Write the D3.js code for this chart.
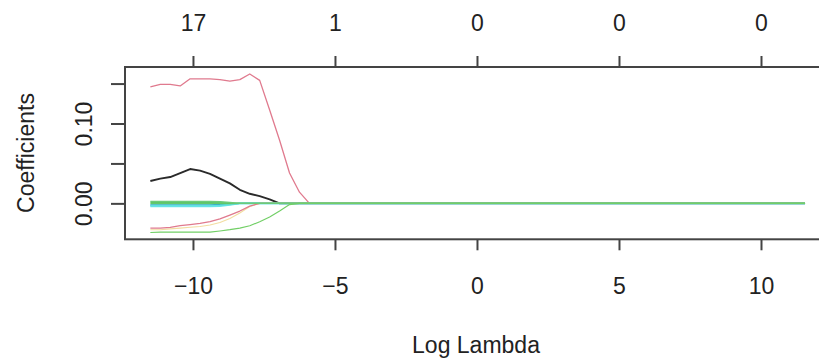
<!DOCTYPE html>
<html><head><meta charset="utf-8">
<script src="https://cdn.jsdelivr.net/npm/d3@7"></script>
<style>
body{margin:0;background:#fff}
text{font-family:"Liberation Sans",Arial,Helvetica,sans-serif;fill:#222}
</style>
</head><body><svg id="c" width="819" height="360"></svg>
<script>
// log(lambda) grid
const logLambda = [-11.5,-11.15,-10.8,-10.45,-10.1,-9.75,-9.4,-9.05,-8.7,-8.35,-8.0,-7.65,-7.3,-6.95,-6.6,-6.25,-5.9,-5.55,11.55];
// coefficient paths
const coefRedTop   = [0.146,0.149,0.149,0.147,0.156,0.156,0.156,0.155,0.153,0.155,0.162,0.154,0.117,0.079,0.038,0.014,0,0,0];
const coefBlack    = [0.028,0.031,0.033,0.038,0.043,0.041,0.037,0.031,0.025,0.017,0.012,0.009,0.005,0,0,0,0,0,0];
const coefRedLow   = [-0.031,-0.031,-0.030,-0.028,-0.0265,-0.025,-0.023,-0.0195,-0.0146,-0.0096,-0.0034,0,0,0,0,0,0,0,0];
const coefYellow   = [-0.033,-0.033,-0.032,-0.031,-0.030,-0.029,-0.027,-0.024,-0.019,-0.012,-0.004,0,0,0,0,0,0,0,0];
const coefGreenLow = [-0.0365,-0.036,-0.036,-0.036,-0.036,-0.036,-0.036,-0.0346,-0.033,-0.031,-0.028,-0.023,-0.017,-0.0096,-0.0015,0,0,0,0];
const coefBlue     = [-0.002,-0.002,-0.002,-0.002,-0.002,-0.002,-0.002,-0.0015,-0.001,0,0,0,0,0,0,0,0,0,0];
const coefCyanA    = [-0.004,-0.004,-0.004,-0.004,-0.004,-0.004,-0.004,-0.0035,-0.002,0,0,0,0,0,0,0,0,0,0];
const coefCyanB    = [-0.0028,-0.0028,-0.0028,-0.0028,-0.0028,-0.0028,-0.0028,-0.0025,-0.0015,0,0,0,0,0,0,0,0,0,0];
const coefGreenA   = [0.0025,0.0025,0.0025,0.0025,0.0025,0.0025,0.0025,0.002,0.001,0,0,0,0,0,0,0,0,0,0];
const coefGreenB   = [0.0012,0.0012,0.0012,0.0012,0.0012,0.0012,0.0012,0.001,0.0005,0,0,0,0,0,0,0,0,0,0];
const coefGreenC   = [-0.0003,-0.0003,-0.0003,-0.0003,-0.0003,-0.0003,-0.0003,-0.0003,-0.0002,0,0,0,0,0,0,0,0,0,0];
const xTicks = [-10,-5,0,5,10];
const dfLabels = ["17","1","0","0","0"];
const yTicks = [0,0.05,0.10,0.15];
const yTickLabels = ["0.00","","0.10",""];

const series = [
  {v:coefBlack, c:"#2a2a2a", w:1.9},
  {v:coefRedTop, c:"#E07A8E", w:1.3},
  {v:coefBlue, c:"#2297E6", w:1.4},
  {v:coefCyanA, c:"#6FE6E8", w:1.6},
  {v:coefCyanB, c:"#5EE0E2", w:1.6},
  {v:coefYellow, c:"#F2DDA0", w:1.1},
  {v:coefRedLow, c:"#E07A8E", w:1.3},
  {v:coefGreenC, c:"#62C96A", w:1.4},
  {v:coefGreenB, c:"#5FC46A", w:1.4},
  {v:coefGreenA, c:"#6CCB78", w:1.4},
  {v:coefGreenLow, c:"#72CF66", w:1.2}
];

const svg = d3.select("#c");
const L=125, T=67, B=239.3, R=832;
const x = d3.scaleLinear().domain([-12.4,12.5]).range([124.8,832]);
const y = d3.scaleLinear().domain([-0.045,0.17075]).range([B,T]);

const line = d3.line().x((d,i)=>x(logLambda[i])).y(d=>y(d));
svg.append("g").selectAll("path").data(series).join("path")
  .attr("d",s=>line(s.v)).attr("fill","none")
  .attr("stroke",s=>s.c).attr("stroke-width",s=>s.w).attr("stroke-linejoin","round");

// box
svg.append("rect").attr("x",L).attr("y",T).attr("width",R-L).attr("height",B-T)
  .attr("fill","none").attr("stroke","#444").attr("stroke-width",2);

const fs = "23px";
const gb = svg.append("g").attr("transform",`translate(0,${B})`)
  .call(d3.axisBottom(x).tickValues(xTicks).tickSize(11).tickPadding(27).tickFormat(d=>d<0?"\u2212"+Math.abs(d):d));
gb.select(".domain").remove();
gb.selectAll("line").attr("stroke","#444").attr("stroke-width",2);
gb.selectAll("text").attr("font-size",fs).attr("fill","#222");

const gt = svg.append("g").attr("transform",`translate(0,${T})`)
  .call(d3.axisTop(x).tickValues(xTicks).tickSize(11).tickPadding(25).tickFormat((d,i)=>dfLabels[i]));
gt.select(".domain").remove();
gt.selectAll("line").attr("stroke","#444").attr("stroke-width",2);
gt.selectAll("text").attr("font-size",fs).attr("fill","#222");

const gl = svg.append("g").attr("transform",`translate(${L},0)`)
  .call(d3.axisLeft(y).tickValues(yTicks).tickSize(14).tickFormat((d,i)=>yTickLabels[i]));
gl.select(".domain").remove();
gl.selectAll("line").attr("stroke","#444").attr("stroke-width",2);
gl.selectAll("text").attr("font-size",fs).attr("fill","#222")
  .attr("x",null).attr("dy",null).attr("text-anchor","middle")
  .attr("transform","translate(-41,0) rotate(-90)").attr("dy","0.35em");

svg.append("text").attr("x",476).attr("y",353).attr("text-anchor","middle")
  .attr("font-size",fs).text("Log Lambda");
svg.append("text").attr("transform","translate(26,153) rotate(-90)").attr("text-anchor","middle")
  .attr("dy","0.35em").attr("font-size",fs).text("Coefficients");
</script>
</body></html>
